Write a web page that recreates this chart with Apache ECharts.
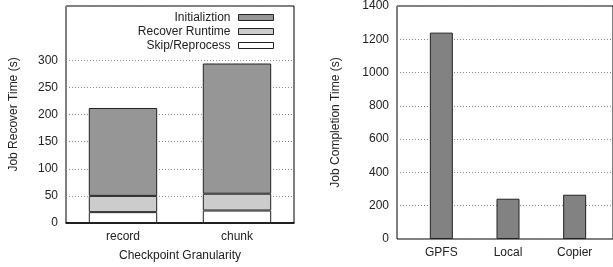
<!DOCTYPE html>
<html>
<head>
<meta charset="utf-8">
<script src="https://cdn.jsdelivr.net/npm/echarts@6/dist/echarts.min.js"></script>
<style>
  html, body { margin: 0; padding: 0; background: #fff; }
  #chart { width: 613px; height: 267px; }
</style>
</head>
<body>
<div id="chart"></div>
<script>
// left panel: recovery time split by checkpoint granularity
const granularity = ['record', 'chunk'];
const skipReprocess = [20, 23];
const recoverRuntime = [30, 31];
const initialization = [162, 240];

// right panel: job completion time per storage backend
const storage = ['GPFS', 'Local', 'Copier'];
const completionTime = [1240, 242, 266];

const font = 'Liberation Sans';
const ink = '#222';
const gridDots = { color: '#888', type: [1, 2], width: 1 };

const chart = echarts.init(document.getElementById('chart'));

function stackPart(name, data, color) {
    return {
        name: name,
        type: 'bar',
        stack: 'recover',
        xAxisIndex: 0,
        yAxisIndex: 0,
        barWidth: '60%',
        data: data,
        itemStyle: { color: color, borderColor: '#222', borderWidth: 1 }
    };
}

chart.setOption({
    animation: false,
    textStyle: { fontFamily: font, color: ink },
    grid: [
        { left: 66, right: 319, top: 6, bottom: 43, show: true, borderColor: '#000', borderWidth: 1 },
        { left: 397, right: -6, top: 6, bottom: 28, show: true, borderColor: '#000', borderWidth: 1 },
        { left: 408, right: 5, top: 6, bottom: 28 }
    ],
    legend: {
        orient: 'vertical',
        align: 'right',
        right: 334,
        top: 6,
        icon: 'rect',
        itemWidth: 35,
        itemHeight: 6,
        itemGap: 1,
        textStyle: { fontFamily: font, fontSize: 12, color: ink, lineHeight: 13, padding: [0, 3, 0, 0] },
        itemStyle: { borderColor: '#222', borderWidth: 1 },
        data: ['Initializtion', 'Recover Runtime', 'Skip/Reprocess']
    },
    xAxis: [
        {
            type: 'category', gridIndex: 0, data: granularity,
            name: 'Checkpoint Granularity', nameLocation: 'middle', nameGap: 27,
            nameTextStyle: { fontSize: 12, color: ink },
            axisLine: { lineStyle: { color: '#000', width: 1.5 } },
            axisTick: { show: false },
            axisLabel: { fontSize: 12, color: ink, margin: 8 }
        },
        { type: 'value', gridIndex: 1, min: 0, max: 1, show: false },
        {
            type: 'category', gridIndex: 2, data: storage,
            axisLine: { show: false },
            axisTick: { show: false },
            axisLabel: { fontSize: 12, color: ink, margin: 8 }
        }
    ],
    yAxis: [
        {
            type: 'value', gridIndex: 0, min: 0, max: 400, interval: 50,
            name: 'Job Recover Time (s)', nameLocation: 'middle', nameGap: 46,
            nameTextStyle: { fontSize: 12, color: ink },
            axisLine: { show: false },
            axisTick: { show: false },
            axisLabel: { fontSize: 12, color: ink, margin: 8, formatter: v => v <= 300 ? String(v) : '' },
            splitLine: { lineStyle: Object.assign({}, gridDots, {
                color: ['#888', '#888', '#888', '#888', '#888', '#888', '#888', 'rgba(0,0,0,0)', '#888']
            }) }
        },
        {
            type: 'value', gridIndex: 1, min: 0, max: 1400, interval: 200,
            name: 'Job Completion Time (s)', nameLocation: 'middle', nameGap: 55,
            nameTextStyle: { fontSize: 12, color: ink },
            axisLine: { show: false },
            axisTick: { show: false },
            axisLabel: { fontSize: 12, color: ink, margin: 8, formatter: v => String(v) },
            splitLine: { lineStyle: gridDots }
        },
        { type: 'value', gridIndex: 2, min: 0, max: 1400, show: false }
    ],
    series: [
        stackPart('Skip/Reprocess', skipReprocess, '#ffffff'),
        stackPart('Recover Runtime', recoverRuntime, '#cccccc'),
        stackPart('Initializtion', initialization, '#969696'),
        {
            name: 'Completion',
            type: 'bar',
            xAxisIndex: 2,
            yAxisIndex: 2,
            barWidth: 23,
            data: completionTime,
            itemStyle: { color: '#828282', borderColor: '#222', borderWidth: 1 }
        }
    ]
});
</script>
</body>
</html>
